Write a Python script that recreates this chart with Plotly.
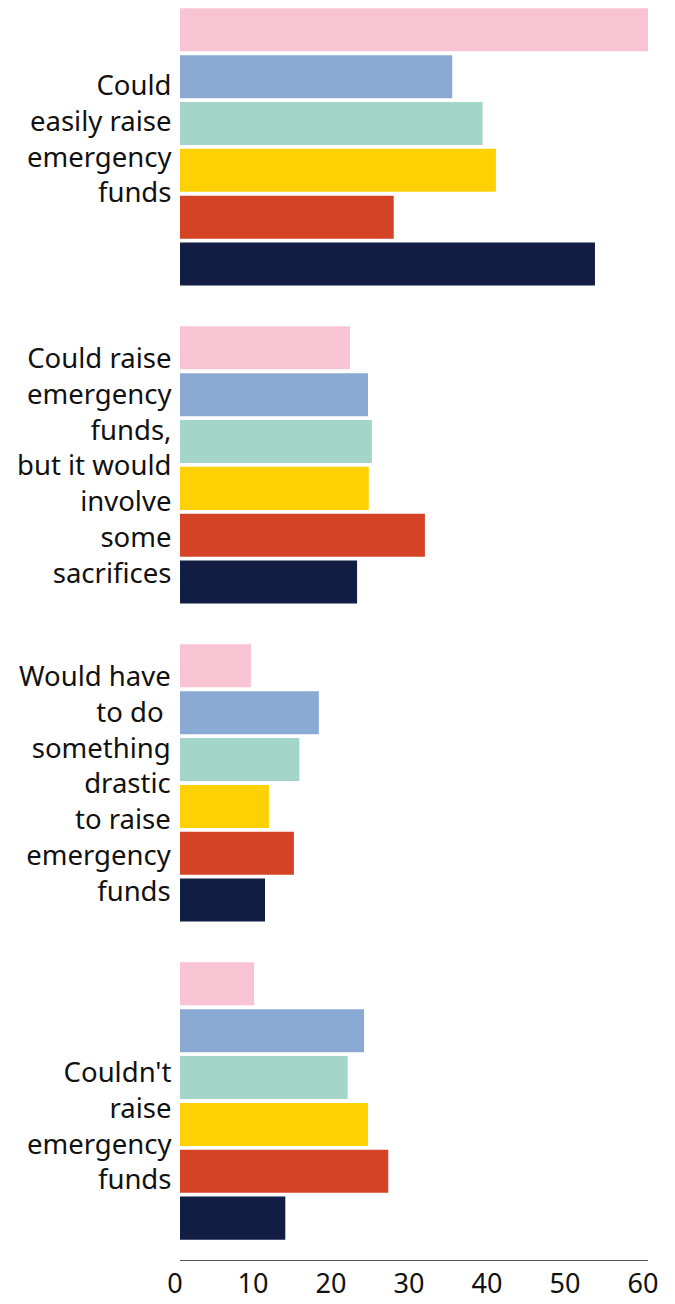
import plotly.graph_objects as go

# Response categories (top to bottom)
categories = [
    "Could<br>easily raise<br>emergency<br>funds",
    "Could raise<br>emergency<br>funds,<br>but it would<br>involve<br>some<br>sacrifices",
    "Would have<br>to do <br>something<br>drastic<br>to raise<br>emergency<br>funds",
    "Couldn't<br>raise<br>emergency<br>funds",
]
cat_keys = ["easily", "sacrifices", "drastic", "couldnt"]

# Share of respondents (%) per group, in category order
series_names = ["Group 1", "Group 2", "Group 3", "Group 4", "Group 5", "Group 6"]
group1 = [60.0, 21.8, 9.1, 9.5]
group2 = [34.9, 24.1, 17.8, 23.6]
group3 = [38.8, 24.6, 15.3, 21.5]
group4 = [40.5, 24.2, 11.4, 24.1]
group5 = [27.4, 31.4, 14.6, 26.7]
group6 = [53.2, 22.7, 10.9, 13.5]
series_values = [group1, group2, group3, group4, group5, group6]

colors = ["#F8C4D4", "#8AAAD3", "#A3D5C9", "#FED105", "#D44325", "#121D43"]

x_ticks = [0, 10, 20, 30, 40, 50, 60]

# vertical nudges for the category labels
label_shift = [9, 0, 0, -24]

FONT = "Noto Sans"

fig = go.Figure()
for name, vals, col in zip(series_names, series_values, colors):
    fig.add_trace(go.Bar(
        y=cat_keys, x=vals, name=name, orientation="h",
        marker=dict(color=col, line=dict(width=0)),
        hoverinfo="x+name",
    ))

for key, text, dy in zip(cat_keys, categories, label_shift):
    fig.add_annotation(
        xref="paper", x=0, yref="y", y=key,
        text=text, showarrow=False, xanchor="right", yanchor="middle",
        align="right", xshift=-6, yshift=dy,
        font=dict(family=FONT, size=27.5, color="#111111"),
    )

fig.update_layout(
    width=675, height=1304,
    margin=dict(l=180, r=27, t=0, b=44, autoexpand=False),
    barmode="group", bargap=0.116, bargroupgap=0.082,
    plot_bgcolor="white", paper_bgcolor="white",
    showlegend=False,
    font=dict(family=FONT, size=27, color="#111111"),
)
fig.update_xaxes(
    range=[0, 60], tickvals=x_ticks, ticktext=[str(v) for v in x_ticks],
    showgrid=False, zeroline=False, showline=True, linecolor="#555555",
    linewidth=1, ticks="", tickfont=dict(family=FONT, size=27, color="#111111"),
    ticklabelshift=-5, ticklabelstandoff=0, automargin=False, fixedrange=True,
)
fig.update_yaxes(
    categoryorder="array", categoryarray=cat_keys,
    range=[3.5, -0.462], showticklabels=False, showgrid=False,
    zeroline=False, showline=False, ticks="", automargin=False, fixedrange=True,
)

fig.write_html("out.html")
